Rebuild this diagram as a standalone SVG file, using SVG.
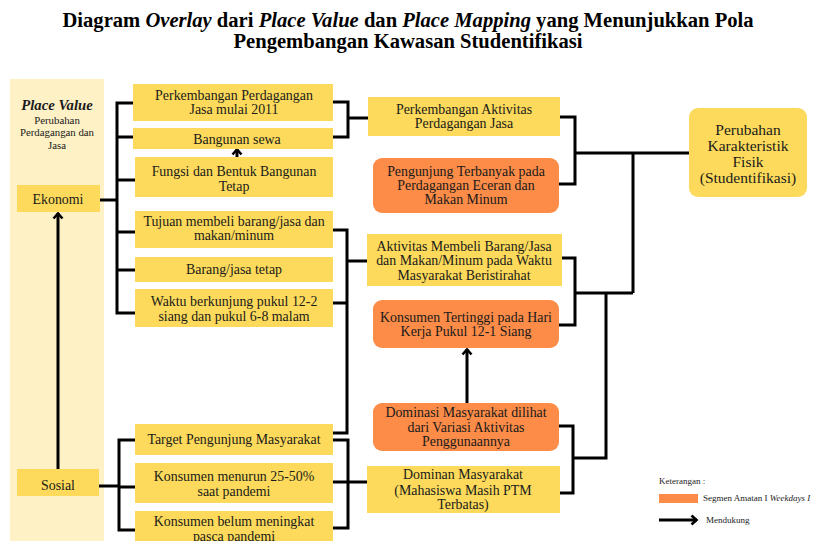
<svg xmlns="http://www.w3.org/2000/svg" width="816" height="541" viewBox="0 0 816 541">
<defs>
<style>
.t{font-family:"Liberation Serif","Times New Roman",serif;font-size:13.9px;fill:#1a1a1a;text-anchor:middle}
.ttl{font-family:"Liberation Serif","Times New Roman",serif;font-size:20.6px;font-weight:bold;fill:#000;text-anchor:middle}
.y{fill:#FDDA5B}
.o{fill:#FC8C48}
.c{fill:none;stroke:#000;stroke-width:3;stroke-linejoin:miter}
.s{fill:none;stroke:#000;stroke-width:3}
.lg{font-family:"Liberation Serif","Times New Roman",serif;font-size:9px;fill:#222}
</style>
<marker id="ah" viewBox="0 0 12 12" markerWidth="12" markerHeight="12" markerUnits="userSpaceOnUse" refX="9" refY="6" orient="auto">
<path d="M3.5,1.5 L8.5,6 L3.5,10.5" fill="none" stroke="#000" stroke-width="2.6"/>
</marker>
</defs>
<rect width="816" height="541" fill="#fff"/>
<g id="title">
<text class="ttl" x="408" y="27">Diagram <tspan font-style="italic">Overlay</tspan> dari <tspan font-style="italic">Place Value</tspan> dan <tspan font-style="italic">Place Mapping</tspan> yang Menunjukkan Pola</text>
<text class="ttl" x="408" y="48">Pengembangan Kawasan Studentifikasi</text>
</g>
<g id="panel">
<rect x="10" y="79" width="94" height="462" fill="#FEF1C6"/>
<text class="t" x="57" y="110" style="font-size:14.7px;font-weight:bold;font-style:italic">Place Value</text>
<text class="t" x="57" y="123.5" style="font-size:10.8px">Perubahan</text>
<text class="t" x="57" y="136" style="font-size:10.8px">Perdagangan dan</text>
<text class="t" x="57" y="148.5" style="font-size:10.8px">Jasa</text>
</g>
<g id="connectors">
<path class="c" d="M100 200 H117"/>
<path class="c" d="M133 103 H117 V313 H135"/>
<path class="c" d="M117 137 H133 M117 180 H135 M117 232 H135 M117 270 H135"/>
<path class="c" d="M333 102 H348 V137 H333 M348 118 H368"/>
<path class="c" d="M333 230 H347 V433 H333 M333 303 H347 M347 261 H367"/>
<path class="c" d="M99 486 H119"/>
<path class="c" d="M135 440 H119 V530 H135 M119 487 H135"/>
<path class="c" d="M333 440 H348 V528 H333 M333 482 H367"/>
<path class="c" d="M560 117 H575 V184 H559 M575 153 H689"/>
<path class="c" d="M562 258 H575 V325 H559 M575 293 H633 M633 153 V293"/>
<path class="c" d="M559 426 H573 V493 H560 M573 458 H606 V293"/>
<path class="s" d="M237 157 V149" marker-end="url(#ah)"/>
<path class="s" d="M58 469 V213" marker-end="url(#ah)"/>
<path class="s" d="M467 403 V349" marker-end="url(#ah)"/>
</g>
<g id="ekonomi"><rect class="y" x="17" y="185" width="83" height="27"/><text class="t" x="58" y="204">Ekonomi</text></g>
<g id="sosial"><rect class="y" x="17" y="469" width="82" height="27"/><text class="t" x="58" y="490">Sosial</text></g>
<g id="b1"><rect class="y" x="133" y="84" width="200" height="37"/><text class="t" x="234" y="100">Perkembangan Perdagangan</text><text class="t" x="234" y="114">Jasa mulai 2011</text></g>
<g id="b2"><rect class="y" x="133" y="128" width="200" height="21"/><text class="t" x="237" y="144">Bangunan sewa</text></g>
<g id="b3"><rect class="y" x="135" y="157" width="198" height="40"/><text class="t" x="234" y="176">Fungsi dan Bentuk Bangunan</text><text class="t" x="234" y="191">Tetap</text></g>
<g id="b4"><rect class="y" x="135" y="211" width="198" height="37"/><text class="t" x="234" y="226">Tujuan membeli barang/jasa dan</text><text class="t" x="234" y="240">makan/minum</text></g>
<g id="b5"><rect class="y" x="135" y="257" width="198" height="25"/><text class="t" x="234" y="274">Barang/jasa tetap</text></g>
<g id="b6"><rect class="y" x="135" y="289" width="198" height="38"/><text class="t" x="234" y="306">Waktu berkunjung pukul 12-2</text><text class="t" x="234" y="321">siang dan pukul 6-8 malam</text></g>
<g id="b7"><rect class="y" x="135" y="424" width="198" height="31"/><text class="t" x="234" y="444">Target Pengunjung Masyarakat</text></g>
<g id="b8"><rect class="y" x="135" y="463" width="198" height="40"/><text class="t" x="234" y="481">Konsumen menurun 25-50%</text><text class="t" x="234" y="496">saat pandemi</text></g>
<g id="b9"><rect class="y" x="135" y="511" width="198" height="40"/><text class="t" x="234" y="526">Konsumen belum meningkat</text><text class="t" x="234" y="541">pasca pandemi</text></g>
<g id="c1"><rect class="y" x="368" y="97" width="192" height="39"/><text class="t" x="464" y="114">Perkembangan Aktivitas</text><text class="t" x="464" y="128">Perdagangan Jasa</text></g>
<g id="c2"><rect class="o" x="373" y="158" width="186" height="55" rx="9"/><text class="t" x="466" y="176">Pengunjung Terbanyak pada</text><text class="t" x="466" y="190">Perdagangan Eceran dan</text><text class="t" x="466" y="204">Makan Minum</text></g>
<g id="c3"><rect class="y" x="367" y="234" width="195" height="52"/><text class="t" x="464" y="251">Aktivitas Membeli Barang/Jasa</text><text class="t" x="464" y="265">dan Makan/Minum pada Waktu</text><text class="t" x="464" y="280">Masyarakat Beristirahat</text></g>
<g id="c4"><rect class="o" x="373" y="300" width="186" height="48" rx="9"/><text class="t" x="466" y="322">Konsumen Tertinggi pada Hari</text><text class="t" x="466" y="336">Kerja Pukul 12-1 Siang</text></g>
<g id="c5"><rect class="o" x="373" y="403" width="186" height="48" rx="9"/><text class="t" x="466" y="417">Dominasi Masyarakat dilihat</text><text class="t" x="466" y="432">dari Variasi Aktivitas</text><text class="t" x="466" y="446">Penggunaannya</text></g>
<g id="c6"><rect class="y" x="367" y="466" width="193" height="47"/><text class="t" x="463" y="479">Dominan Masyarakat</text><text class="t" x="463" y="495">(Mahasiswa Masih PTM</text><text class="t" x="463" y="509">Terbatas)</text></g>
<g id="r1"><rect class="y" x="689" y="108" width="118" height="89" rx="9"/><text class="t" x="748" y="135" style="font-size:15.5px">Perubahan</text><text class="t" x="748" y="151" style="font-size:15.5px">Karakteristik</text><text class="t" x="748" y="167" style="font-size:15.5px">Fisik</text><text class="t" x="748" y="183" style="font-size:15.5px">(Studentifikasi)</text></g>
<g id="legend">
<text class="lg" x="659" y="484">Keterangan :</text>
<rect class="o" x="659" y="494" width="39" height="9"/>
<text class="lg" x="703" y="501">Segmen Amatan I <tspan font-style="italic">Weekdays I</tspan></text>
<path class="s" d="M659 520 H697" marker-end="url(#ah)"/>
<text class="lg" x="706" y="523">Mendukung</text>
</g>
</svg>
